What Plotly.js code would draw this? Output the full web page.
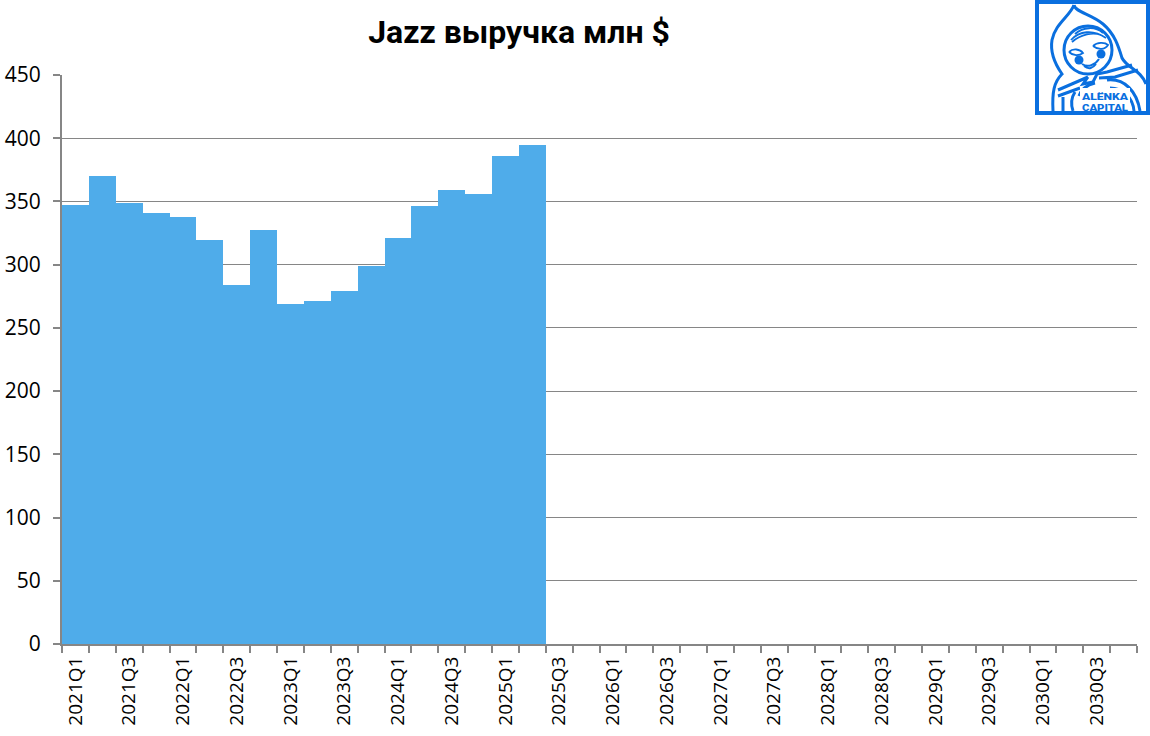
<!DOCTYPE html>
<html><head><meta charset="utf-8">
<script src="https://cdn.plot.ly/plotly-3.0.1.min.js"></script>
<style>html,body{margin:0;padding:0;background:#fff;overflow:hidden}#c{width:1150px;height:736px}
#logo{position:absolute;left:1035px;top:0;width:115px;height:115px}</style></head>
<body><div id="c"></div>
<svg id="logo" viewBox="0 0 115 115" xmlns="http://www.w3.org/2000/svg">
<rect x="2" y="2" width="111" height="111" fill="#fff" stroke="#0a6fdf" stroke-width="4"/>
<g fill="none" stroke="#0a6fdf" stroke-width="3">
<path d="M39 5 C40 12 56 14 68 24 C80 34 84 48 87 58 C92 68 106 70 111 84"/>
<path d="M39 5 C35 16 20 24 17 40 C15 52 20 64 27 74 C19 82 17 92 18 111"/>
<circle cx="53" cy="50" r="24"/>
<path stroke-width="1.8" d="M40 34 C48 27 60 26 68 33 M36 40 C44 31 58 29 71 38 M37 42 C46 34 58 32 66 35"/>
<path stroke-width="1.8" d="M34 52 C38 48 45 49 48 53 C44 56 38 56 34 52 M58 46 C62 42 70 42 73 45 C70 50 63 50 58 46"/>
<path stroke-width="2" d="M47 64 C53 68 60 65 64 59 M49 66 C54 70 58 68 61 64"/>
<path d="M23 90 L53 77 M23 96 L45 88 M53 77 L48 84 L58 82 L62 74 L72 72 L97 65 M64 78 L80 77 L103 70 M72 80 C90 78 102 92 105 111 M75 88 C88 88 98 98 99 111"/>
<path d="M28 97 L28 111 M40 92 C36 98 36 105 38 111 M60 83 C52 85 46 90 44 96"/>
</g>
<circle cx="44" cy="60" r="4.5" fill="#0a6fdf"/><circle cx="66" cy="54" r="4.5" fill="#0a6fdf"/>
<rect x="45" y="88" width="50" height="23" fill="#fff"/>
<text x="47" y="99.5" textLength="46" lengthAdjust="spacingAndGlyphs" font-family="Roboto" font-weight="900" font-size="9.8" fill="#0a6fdf">ALËNKA</text>
<text x="47" y="111" textLength="46" lengthAdjust="spacingAndGlyphs" font-family="Roboto" font-weight="900" font-size="9.8" fill="#0a6fdf">CAPITAL</text>
</svg>
<script>
const categories = [];
for (const y of [2021,2022,2023,2024,2025,2026,2027,2028,2029,2030]) for (const q of [1,2,3,4]) categories.push(y+'Q'+q);
const revenue = [347,370,349,341,338,319.5,284,327.5,269,271,279,299,321,346.5,359,356,386,395];
const labels = categories.map((c,i)=> i%2===0 ? c : '');
const title = 'Jazz выручка млн $';
Plotly.newPlot('c',[{type:'bar',x:categories,y:revenue,marker:{color:'#4facea',line:{width:0}},hoverinfo:'x+y'}],{
  width:1150,height:736,margin:{l:62.3,r:13,t:75,b:92,pad:0},
  paper_bgcolor:'#fff',plot_bgcolor:'#fff',bargap:0,showlegend:false,
  title:{text:title,font:{family:'Roboto',size:32,color:'#000',weight:700},x:519/1150,xanchor:'center',y:1-32/736,yanchor:'middle',yref:'container'},
  xaxis:{type:'category',categoryorder:'array',categoryarray:categories,range:[-0.5,39.5],tickmode:'array',tickvals:categories,ticktext:labels,tickson:'boundaries',
    ticks:'outside',ticklen:7,tickwidth:2,tickcolor:'#868686',showline:true,linecolor:'#868686',linewidth:2,tickangle:-90,showgrid:false,ticklabelstandoff:3,
    tickfont:{family:'Open Sans',size:19,color:'#000'}},
  yaxis:{range:[0,450],tickmode:'array',tickvals:[0,50,100,150,200,250,300,350,400,450],ticks:'outside',ticklen:7,tickwidth:2,tickcolor:'#868686',
    showline:true,linecolor:'#868686',linewidth:2,gridcolor:'#868686',gridwidth:1,zeroline:false,ticklabelstandoff:8,
    tickfont:{family:'Open Sans',size:21,color:'#000'}}
},{displayModeBar:false,staticPlot:true});
</script></body></html>
